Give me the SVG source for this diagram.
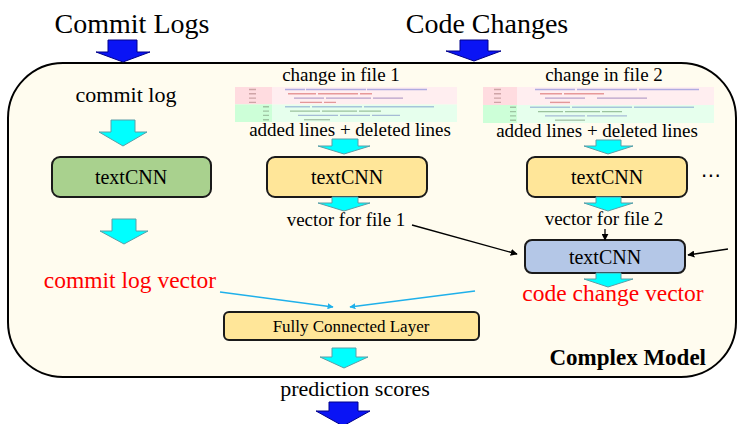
<svg xmlns="http://www.w3.org/2000/svg" width="747" height="424" viewBox="0 0 747 424">
<style>
  text{font-family:'Liberation Serif','Times New Roman','DejaVu Serif',serif}
  .t{fill:#000}
  .red{fill:#ff0000}
  .box{stroke:#1a1a1a;stroke-width:2}
  .cyan{fill:#00ffff;stroke:#5a9fa8;stroke-width:1}
  .blue{fill:#0a14f5;stroke:#00008a;stroke-width:1}
  .lb{stroke:#1fb0ea;stroke-width:1.6;fill:none}
  .bk{stroke:#000;stroke-width:1.3;fill:none}
  .cr{stroke-width:1.4}
</style>
<defs>
  <marker id="ah-lb" viewBox="0 0 10 10" refX="9" refY="5" markerWidth="6" markerHeight="6" markerUnits="userSpaceOnUse" orient="auto">
    <path d="M0,0 L10,5 L0,10 Z" fill="#1fb0ea"/>
  </marker>
  <marker id="ah-bk" viewBox="0 0 10 10" refX="9" refY="5" markerWidth="7" markerHeight="7" markerUnits="userSpaceOnUse" orient="auto">
    <path d="M0,0 L10,5 L0,10 Z" fill="#000"/>
  </marker>
</defs>

<rect x="0" y="0" width="747" height="424" fill="#ffffff"/>

<g font-family="Liberation Serif, Times New Roman, serif">
<!-- titles -->
<text class="t" x="132" y="33" font-size="28" text-anchor="middle">Commit Logs</text>
<text class="t" x="487" y="33" font-size="28" text-anchor="middle">Code Changes</text>

<!-- outer container -->
<g id="complex-model">
  <rect x="8" y="63" width="728" height="314" rx="55" ry="55" fill="#fffcef" stroke="#000" stroke-width="2"/>
  <text class="t" x="706" y="365" font-size="23" font-weight="bold" text-anchor="end">Complex Model</text>
</g>

<!-- input big blue arrows -->
<polygon class="blue" points="108,40 137,40 137,52 150,52 123,62 96,52 108,52"/>
<polygon class="blue" points="460,40 488,40 488,51 501,51 474,61 446,51 460,51"/>

<!-- commit log branch -->
<g id="commit-log">
  <text class="t" x="126" y="102" font-size="22" text-anchor="middle">commit log</text>
</g>
<g id="textcnn-log">
  <rect class="box" x="52" y="157" width="159" height="40" rx="8" fill="#a9d18e"/>
  <text class="t" x="131" y="184" font-size="20" text-anchor="middle">textCNN</text>
</g>
<g id="commit-log-vector">
  <text class="t red" x="130" y="288" font-size="23.5" text-anchor="middle">commit log vector</text>
</g>

<!-- file 1 branch -->
<g id="file1">
  <text class="t" x="341" y="81" font-size="19" text-anchor="middle">change in file 1</text>
  <g id="diff1">
    <rect x="235" y="87" width="222" height="17.5" fill="#ffeef0"/>
    <rect x="235" y="87" width="37" height="17.5" fill="#ffdce0"/>
    <rect x="235" y="104.5" width="222" height="17.5" fill="#e6ffed"/>
    <rect x="235" y="104.5" width="37" height="17.5" fill="#cdffd8"/>
    <g class="cr" opacity="0.6">
      <path d="M249,89.5h7M249,93.8h7M249,98.1h7M249,102.4h7" stroke="#b08080"/>
      <path d="M263,106.8h6M263,111.1h6M263,115.4h6M263,119.7h6" stroke="#80a080"/>
      <path d="M285,89.5h20M306,89.5h60M367,89.5h60" stroke="#7d7fd8"/>
      <path d="M288,93.8h28M318,93.8h40M360,93.8h12" stroke="#d86060"/>
      <path d="M294,98.1h30M326,98.1h45M373,98.1h30" stroke="#8a6fb0"/>
      <path d="M300,102.4h22M324,102.4h12" stroke="#d06060"/>
      <path d="M285,106.8h25M312,106.8h50M364,106.8h70" stroke="#7d9fd0"/>
      <path d="M290,111.1h30M322,111.1h35M359,111.1h22" stroke="#6a9a6a"/>
      <path d="M298,115.4h40M340,115.4h30M372,115.4h28" stroke="#7d8fc8"/>
      <path d="M304,119.7h26" stroke="#80a080"/>
    </g>
  </g>
  <text class="t" x="350" y="136" font-size="19" text-anchor="middle">added lines + deleted lines</text>
  <polygon class="cyan" points="332,139 358,139 358,146 370,146 344,154 318,146 332,146"/>
</g>
<g id="textcnn-file1">
  <rect class="box" x="267" y="157" width="160" height="40" rx="8" fill="#ffe699"/>
  <text class="t" x="347" y="184" font-size="20" text-anchor="middle">textCNN</text>
</g>
<g id="vector-file1">
  <polygon class="cyan" points="332,197 358,197 358,203 370,203 344,211 318,203 332,203"/>
  <text class="t" x="346" y="226" font-size="19" text-anchor="middle">vector for file 1</text>
</g>

<!-- file 2 branch -->
<g id="file2">
  <text class="t" x="604" y="81" font-size="19" text-anchor="middle">change in file 2</text>
  <g id="diff2">
    <rect x="483" y="87" width="231" height="18" fill="#ffeef0"/>
    <rect x="483" y="87" width="34" height="18" fill="#ffdce0"/>
    <rect x="483" y="105" width="231" height="18" fill="#e6ffed"/>
    <rect x="483" y="105" width="34" height="18" fill="#cdffd8"/>
    <g class="cr" opacity="0.6">
      <path d="M494,89.5h7M494,93.8h7M494,98.1h7M494,102.4h7" stroke="#b08080"/>
      <path d="M510,107.3h6M510,111.6h6M510,115.9h6M510,120.2h6" stroke="#80a080"/>
      <path d="M535,89.5h40M577,89.5h60M639,89.5h60" stroke="#7d7fd8"/>
      <path d="M540,93.8h22M564,93.8h40" stroke="#d86060"/>
      <path d="M545,98.1h40M597,98.1h50" stroke="#8a6fb0"/>
      <path d="M550,102.4h20" stroke="#d06060"/>
      <path d="M530,107.3h40M572,107.3h60M634,107.3h60" stroke="#7d9fd0"/>
      <path d="M538,111.6h25M565,111.6h35M602,111.6h20" stroke="#6a9a6a"/>
      <path d="M545,115.9h40M587,115.9h40" stroke="#7d8fc8"/>
      <path d="M555,120.2h30" stroke="#80a080"/>
    </g>
  </g>
  <text class="t" x="597" y="137" font-size="19" text-anchor="middle">added lines + deleted lines</text>
  <polygon class="cyan" points="596,140 621,140 621,146 633,146 608,154 584,146 596,146"/>
</g>
<g id="textcnn-file2">
  <rect class="box" x="527" y="157" width="160" height="40" rx="8" fill="#ffe699"/>
  <text class="t" x="607" y="184" font-size="20" text-anchor="middle">textCNN</text>
</g>
<text x="711" y="182" style="font-family:'DejaVu Sans',sans-serif" font-size="20" text-anchor="middle">⋯</text>
<g id="vector-file2">
  <polygon class="cyan" points="596,197 621,197 621,203 633,203 608,211 584,203 596,203"/>
  <text class="t" x="604" y="225" font-size="19" text-anchor="middle">vector for file 2</text>
</g>

<!-- aggregate textCNN -->
<g id="textcnn-agg">
  <rect class="box" x="525" y="240" width="160" height="33" rx="7" fill="#b4c7e7"/>
  <text class="t" x="605" y="264" font-size="20" text-anchor="middle">textCNN</text>
</g>
<g id="code-change-vector">
  <polygon class="cyan" points="596,273 621,273 621,279 633,279 608,287 584,279 596,279"/>
  <text class="t red" x="613" y="301" font-size="23.5" text-anchor="middle">code change vector</text>
</g>

<!-- fully connected -->
<g id="fc-layer">
  <rect class="box" x="224" y="312" width="255" height="28" rx="5" fill="#ffe699"/>
  <text class="t" x="351" y="332" font-size="17" text-anchor="middle">Fully Connected Layer</text>
</g>
<g id="prediction">
  <polygon class="cyan" points="332,348 356,348 356,357 368,357 344,368 320,357 332,357"/>
  <text class="t" x="355" y="396" font-size="22" text-anchor="middle">prediction scores</text>
  <polygon class="blue" points="329,402 358,402 358,411 370,411 343,426 316,411 329,411"/>
</g>
</g>

<!-- connectors -->
<g id="connectors">
  <polygon class="cyan" points="111,120 135,120 135,132 147,132 123,146 99,132 111,132"/>
  <polygon class="cyan" points="112,219 136,219 136,231 148,231 124,244 100,231 112,231"/>
  <line class="lb" x1="220" y1="292" x2="333" y2="307" marker-end="url(#ah-lb)"/>
  <line class="lb" x1="475" y1="291" x2="350" y2="307" marker-end="url(#ah-lb)"/>
  <line class="bk" x1="412" y1="225" x2="517" y2="254" marker-end="url(#ah-bk)"/>
  <line class="bk" x1="605" y1="229" x2="605" y2="240" marker-end="url(#ah-bk)"/>
  <line class="bk" x1="728" y1="249" x2="688" y2="255" marker-end="url(#ah-bk)"/>
</g>
</svg>
